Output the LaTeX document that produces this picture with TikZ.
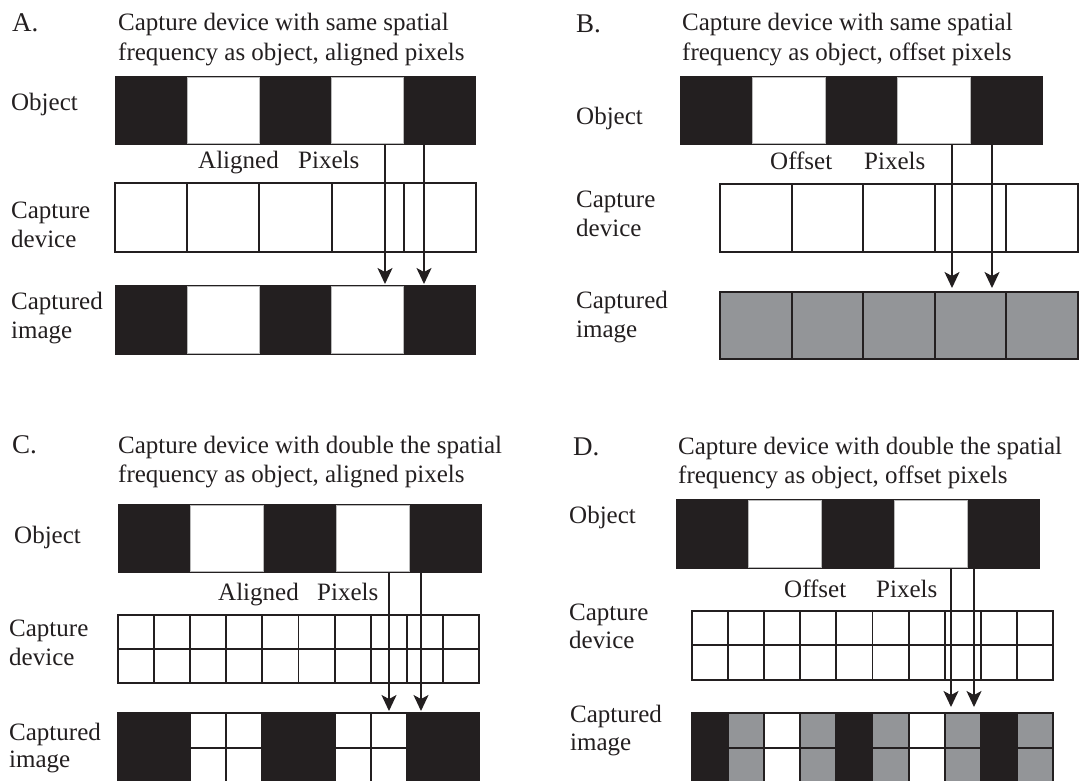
\documentclass[tikz,border=0pt]{standalone}
\usepackage{fontspec}
\setmainfont{Liberation Serif}
\usetikzlibrary{arrows.meta}
\definecolor{ink}{HTML}{231F20}
\definecolor{pgray}{HTML}{939598}
\tikzset{
  lbl/.style={anchor=base west, inner sep=0pt, text=ink, font=\fontsize{25}{30}\selectfont},
  plabel/.style={anchor=base west, inner sep=0pt, text=ink, font=\fontsize{27}{30}\selectfont},
  cell/.style={draw=ink, line width=1.9pt},
  arr/.style={draw=ink, line width=1.6pt, -{Stealth[length=16pt,width=15pt,inset=4pt]}},
}
% #1 x0, #2 x1, #3 y0, #4 y1
\newcommand\objbar[4]{%
  \fill[ink] (#1,#3) rectangle (#2,#4);
  \pgfmathsetmacro\segw{(#2-#1)/5}
  \foreach \i in {1,3}{\filldraw[fill=white,draw=gray!55,line width=0.7pt] ({#1+\i*\segw},{#3+1.8}) rectangle ({#1+(\i+1)*\segw},{#4-1.8});}
}
% #1 x0, #2 x1, #3 y0, #4 y1, #5 colour list
\newcommand\patrow[5]{%
  \pgfmathsetmacro\cw{(#2-#1)/10}
  \foreach \c [count=\i] in {#5}{\filldraw[cell,fill=\c] ({#1+(\i-1)*\cw},#3) rectangle ({#1+\i*\cw},#4);}
}
% #1 x0, #2 x1, #3 y0, #4 y1, #5 n, #6 fill
\newcommand\devrow[6]{%
  \pgfmathsetmacro\cw{(#2-#1)/#5}
  \foreach \i in {1,...,#5}{\filldraw[cell,fill=#6] ({#1+(\i-1)*\cw},#3) rectangle ({#1+\i*\cw},#4);}
}
\begin{document}
\begin{tikzpicture}[x=1pt,y=-1pt]
\useasboundingbox (0,0) rectangle (1079,780);
\clip (0,0) rectangle (1079,780);
\fill[white] (0,0) rectangle (1079,780);

% ---------------- Panel A ----------------
\node[plabel] (Alab) at (12,31) {A.};
\node[lbl] (At1) at (118,30) {Capture device with same spatial};
\node[lbl] (At2) at (118,60) {frequency as object, aligned pixels};
\node[lbl] (Aobj) at (11,110) {Object};
\node[lbl] (Acap1) at (11,218) {Capture};
\node[lbl] (Acap2) at (11,247) {device};
\node[lbl] (Aim1) at (11,309) {Captured};
\node[lbl] (Aim2) at (11,338) {image};
\node[lbl] (Aal) at (198,168) {Aligned};
\node[lbl] (Apx) at (298,168) {Pixels};
\objbar{115}{476}{76}{145}
\devrow{115}{476}{183}{252}{5}{white}
\objbar{115}{476}{285}{355}
\coordinate (A1s) at (385,145); \coordinate (A1e) at (385,284);
\coordinate (A2s) at (424,145); \coordinate (A2e) at (424,284);
\draw[arr] (A1s) -- (A1e);
\draw[arr] (A2s) -- (A2e);

% ---------------- Panel B ----------------
\node[plabel] (Blab) at (576,32) {B.};
\node[lbl] (Bt1) at (682,30) {Capture device with same spatial};
\node[lbl] (Bt2) at (682,60) {frequency as object, offset pixels};
\node[lbl] (Bobj) at (576,124) {Object};
\node[lbl] (Bcap1) at (576,207) {Capture};
\node[lbl] (Bcap2) at (576,236) {device};
\node[lbl] (Bim1) at (576,308) {Captured};
\node[lbl] (Bim2) at (576,337) {image};
\node[lbl] (Bof) at (770,169) {Offset};
\node[lbl] (Bpx) at (864,169) {Pixels};
\objbar{680}{1043}{76}{145}
\devrow{720}{1078}{184}{252}{5}{white}
\devrow{720}{1078}{292}{359}{5}{pgray}
\coordinate (B1s) at (952,145); \coordinate (B1e) at (952,288);
\coordinate (B2s) at (992,145); \coordinate (B2e) at (992,288);
\draw[arr] (B1s) -- (B1e);
\draw[arr] (B2s) -- (B2e);

% ---------------- Panel C ----------------
\node[plabel] (Clab) at (12,453) {C.};
\node[lbl] (Ct1) at (118,453) {Capture device with double the spatial};
\node[lbl] (Ct2) at (118,482) {frequency as object, aligned pixels};
\node[lbl] (Cobj) at (14,543) {Object};
\node[lbl] (Ccap1) at (9,636) {Capture};
\node[lbl] (Ccap2) at (9,665) {device};
\node[lbl] (Cim1) at (9,740) {Captured};
\node[lbl] (Cim2) at (9,767) {image};
\node[lbl] (Cal) at (218,600) {Aligned};
\node[lbl] (Cpx) at (317,600) {Pixels};
\objbar{118}{482}{504}{573}
\devrow{118}{479}{615}{649}{10}{white}
\devrow{118}{479}{649}{683}{10}{white}
\patrow{118}{479}{713}{748}{ink,ink,white,white,ink,ink,white,white,ink,ink}
\patrow{118}{479}{748}{783}{ink,ink,white,white,ink,ink,white,white,ink,ink}
\coordinate (C1s) at (389,573); \coordinate (C1e) at (389,711);
\coordinate (C2s) at (421,573); \coordinate (C2e) at (421,711);
\draw[arr] (C1s) -- (C1e);
\draw[arr] (C2s) -- (C2e);

% ---------------- Panel D ----------------
\node[plabel] (Dlab) at (573,455) {D.};
\node[lbl] (Dt1) at (678,454) {Capture device with double the spatial};
\node[lbl] (Dt2) at (678,483) {frequency as object, offset pixels};
\node[lbl] (Dobj) at (569,523) {Object};
\node[lbl] (Dcap1) at (569,620) {Capture};
\node[lbl] (Dcap2) at (569,648) {device};
\node[lbl] (Dim1) at (570,722) {Captured};
\node[lbl] (Dim2) at (570,750) {image};
\node[lbl] (Dof) at (784,597) {Offset};
\node[lbl] (Dpx) at (876,597) {Pixels};
\objbar{676}{1040}{499}{569}
\devrow{692}{1053}{611}{645}{10}{white}
\devrow{692}{1053}{645}{680}{10}{white}
\patrow{692}{1053}{713}{748}{ink,pgray,white,pgray,ink,pgray,white,pgray,ink,pgray}
\patrow{692}{1053}{748}{783}{ink,pgray,white,pgray,ink,pgray,white,pgray,ink,pgray}
\coordinate (D1s) at (951,569); \coordinate (D1e) at (951,707);
\coordinate (D2s) at (974,569); \coordinate (D2e) at (974,707);
\draw[arr] (D1s) -- (D1e);
\draw[arr] (D2s) -- (D2e);
\end{tikzpicture}
\end{document}
